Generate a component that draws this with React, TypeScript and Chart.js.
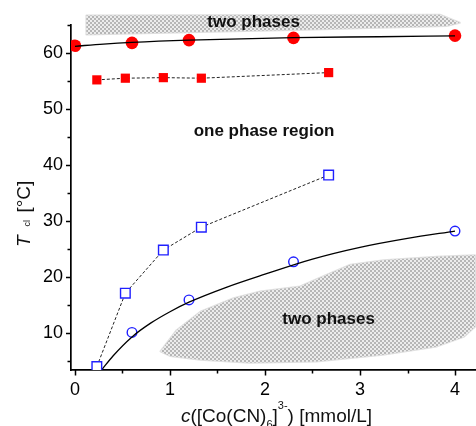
import React, { useEffect, useRef } from 'react';
import { Chart, registerables } from 'chart.js';

Chart.register(...registerables);

// ---- axis ticks ----
const xTicks = [0, 1, 2, 3, 4];
const xMinorTicks = [0.5, 1.5, 2.5, 3.5];
const yTicks = [10, 20, 30, 40, 50, 60];
const yMinorTicks = [5, 15, 25, 35, 45, 55, 65];

// ---- series ----
const redCircleX = [0, 0.6, 1.2, 2.3, 4.0];
const redCircleY = [61.3, 61.8, 62.3, 62.7, 63.1];
const redFitX = [0, 0.3, 0.6, 1.2, 2.3, 3.2, 4.0];
const redFitY = [61.2, 61.6, 61.9, 62.3, 62.75, 62.9, 63.05];
const redSquareX = [0.23, 0.53, 0.93, 1.33, 2.67];
const redSquareY = [55.2, 55.5, 55.6, 55.5, 56.5];
const blueSquareX = [0.23, 0.53, 0.93, 1.33, 2.67];
const blueSquareY = [4.0, 17.1, 24.8, 28.9, 38.2];
const blueCircleX = [0.6, 1.2, 2.3, 4.0];
const blueCircleY = [10.1, 15.9, 22.7, 28.2];
const blueFitX = [0.28, 0.4, 0.6, 0.8, 1.0, 1.2, 1.6, 2.0, 2.5, 3.0, 3.5, 4.0];
const blueFitY = [3.4, 5.9, 9.3, 11.8, 13.8, 15.5, 18.2, 20.5, 23.2, 25.3, 26.9, 28.2];

// ---- shaded two-phase regions (data coordinates) ----
const topRegionX = [0.12, 3.84, 4.05, 3.91, 2.5, 0.12];
const topRegionY = [66.7, 66.85, 65.4, 64.8, 64.2, 63.3];
const bottomRegionX = [0.9, 1.07, 1.32, 1.67, 1.95, 2.37, 2.61, 2.9, 3.25, 3.81, 4.21, 4.21, 4.09, 3.81, 3.24, 2.54, 1.84, 1.32, 1.0];
const bottomRegionY = [6.7, 10.5, 13.8, 16.2, 17.4, 18.3, 20.1, 22.2, 23.0, 23.6, 23.9, 11.1, 9.3, 7.6, 6.1, 4.9, 4.7, 5.2, 5.9];

// ---- annotations ----
const annotationTexts = ['two phases', 'one phase region', 'two phases'];
const annotationX = [1.88, 1.99, 2.67];
const annotationY = [64.65, 45.1, 11.6];

const RED = '#ff0000';
const BLUE = '#2020ff';
const FONT = 'Arial, "Liberation Sans", sans-serif';

const zip = (xs: number[], ys: number[]) => xs.map((x, i) => ({ x, y: ys[i] }));

function makePattern(ctx: CanvasRenderingContext2D) {
  const c = document.createElement('canvas');
  c.width = 4;
  c.height = 4;
  const p = c.getContext('2d')!;
  p.fillStyle = '#ececec';
  p.fillRect(0, 0, 4, 4);
  p.fillStyle = '#b6b6b6';
  p.fillRect(0, 0, 2, 2);
  p.fillRect(2, 2, 2, 2);
  return ctx.createPattern(c, 'repeat');
}

type Piece = { text?: string; font?: string; dy?: number; gap?: number };

function drawPieces(ctx: CanvasRenderingContext2D, pieces: Piece[], x0: number, y0: number) {
  let x = x0;
  for (const p of pieces) {
    if (p.gap) { x += p.gap; continue; }
    ctx.font = p.font!;
    ctx.fillText(p.text!, x, y0 + (p.dy || 0));
    x += ctx.measureText(p.text!).width;
  }
}
function piecesWidth(ctx: CanvasRenderingContext2D, pieces: Piece[]) {
  let w = 0;
  for (const p of pieces) {
    if (p.gap) { w += p.gap; continue; }
    ctx.font = p.font!;
    w += ctx.measureText(p.text!).width;
  }
  return w;
}

const decor = {
  id: 'decor',
  beforeDatasetsDraw(chart: any) {
    const { ctx, scales } = chart;
    const xs = scales.x, ys = scales.y;
    const pat = makePattern(ctx);
    const regions: [number[], number[]][] = [[topRegionX, topRegionY], [bottomRegionX, bottomRegionY]];
    for (const [rx, ry] of regions) {
      ctx.save();
      ctx.beginPath();
      rx.forEach((v, i) => {
        const px = xs.getPixelForValue(v);
        const py = ys.getPixelForValue(ry[i]);
        if (i === 0) ctx.moveTo(px, py); else ctx.lineTo(px, py);
      });
      ctx.closePath();
      ctx.lineJoin = 'round';
      ctx.strokeStyle = 'rgba(220,220,220,0.9)';
      ctx.lineWidth = 2;
      ctx.stroke();
      ctx.fillStyle = pat;
      ctx.fill();
      ctx.restore();
    }
  },
  afterDatasetsDraw(chart: any) {
    const { ctx, scales } = chart;
    ctx.save();
    ctx.fillStyle = '#111';
    ctx.font = `bold 17px ${FONT}`;
    ctx.textAlign = 'center';
    ctx.textBaseline = 'alphabetic';
    annotationTexts.forEach((t, i) => {
      ctx.fillText(t, scales.x.getPixelForValue(annotationX[i]), scales.y.getPixelForValue(annotationY[i]));
    });
    ctx.restore();
  },
  afterDraw(chart: any) {
    const { ctx, scales, chartArea } = chart;
    const xs = scales.x, ys = scales.y;
    ctx.save();
    ctx.strokeStyle = '#000';
    ctx.lineWidth = 1.5;
    ctx.beginPath();
    for (const v of yTicks) { const p = Math.round(ys.getPixelForValue(v)) + 0.5; ctx.moveTo(chartArea.left - 5, p); ctx.lineTo(chartArea.left, p); }
    for (const v of yMinorTicks) { const p = Math.round(ys.getPixelForValue(v)) + 0.5; ctx.moveTo(chartArea.left - 3.5, p); ctx.lineTo(chartArea.left, p); }
    for (const v of xTicks) { const p = Math.round(xs.getPixelForValue(v)) + 0.5; ctx.moveTo(p, chartArea.bottom); ctx.lineTo(p, chartArea.bottom + 5.5); }
    for (const v of xMinorTicks) { const p = Math.round(xs.getPixelForValue(v)) + 0.5; ctx.moveTo(p, chartArea.bottom); ctx.lineTo(p, chartArea.bottom + 3.5); }
    ctx.stroke();

    ctx.fillStyle = '#111';
    ctx.textAlign = 'left';
    ctx.textBaseline = 'alphabetic';
    // x title
    const xPieces: Piece[] = [
      { text: 'c', font: `italic 19px ${FONT}` },
      { text: '([Co(CN)', font: `19px ${FONT}` },
      { text: '6', font: `11px ${FONT}`, dy: 6 },
      { text: ']', font: `19px ${FONT}` },
      { text: '3-', font: `11px ${FONT}`, dy: -13 },
      { text: ') [mmol/L]', font: `19px ${FONT}` },
    ];
    const w = piecesWidth(ctx, xPieces);
    const cx = (chartArea.left + chartArea.right) / 2 + 3;
    drawPieces(ctx, xPieces, cx - w / 2, 422);

    // y title
    const yPieces: Piece[] = [
      { text: 'T', font: `italic 19px ${FONT}` },
      { gap: 9 },
      { text: 'cl', font: `9px ${FONT}`, dy: 0 },
      { gap: 2 },
      { text: ' [°C]', font: `19px ${FONT}` },
    ];
    ctx.translate(30, 247);
    ctx.rotate(-Math.PI / 2);
    drawPieces(ctx, yPieces, 0, 0);
    ctx.restore();
  },
};

export default function App() {
  const ref = useRef<HTMLCanvasElement>(null);
  useEffect(() => {
    document.body.style.margin = '0';
    const tickFont = { family: FONT, size: 18 };
    const chart = new Chart(ref.current!, {
      type: 'line',
      data: {
        datasets: [
          {
            data: zip(redFitX, redFitY),
            borderColor: '#000', borderWidth: 1.3, pointRadius: 0,
            cubicInterpolationMode: 'monotone', fill: false,
          },
          {
            data: zip(redCircleX, redCircleY),
            showLine: false, pointStyle: 'circle', pointRadius: 6.3,
            pointBackgroundColor: RED, pointBorderColor: RED, pointBorderWidth: 0,
          },
          {
            data: zip(redSquareX, redSquareY),
            borderColor: '#222', borderWidth: 1, borderDash: [3, 2],
            pointStyle: 'rect', pointRadius: 6.5,
            pointBackgroundColor: RED, pointBorderColor: RED, pointBorderWidth: 0,
          },
          {
            data: zip(blueSquareX, blueSquareY),
            borderColor: '#222', borderWidth: 1, borderDash: [3, 2],
            pointStyle: 'rect', pointRadius: 6.8,
            pointBackgroundColor: '#fff', pointBorderColor: BLUE, pointBorderWidth: 1.4,
          },
          {
            data: zip(blueFitX, blueFitY),
            borderColor: '#000', borderWidth: 1.3, pointRadius: 0,
            cubicInterpolationMode: 'monotone', fill: false,
          },
          {
            data: zip(blueCircleX, blueCircleY),
            showLine: false, pointStyle: 'circle', pointRadius: 4.8,
            pointBackgroundColor: '#fff', pointBorderColor: BLUE, pointBorderWidth: 1.4,
          },
        ] as any,
      },
      options: {
        animation: false,
        responsive: false,
        devicePixelRatio: 1,
        layout: { autoPadding: false, padding: { top: 25, right: 0, left: 0, bottom: 0 } },
        plugins: { legend: { display: false }, tooltip: { enabled: false } },
        scales: {
          x: {
            type: 'linear', min: -0.042, max: 4.221,
            grid: { display: false, drawTicks: false, tickLength: 0 },
            border: { display: true, color: '#000', width: 1.7 },
            ticks: { font: tickFont, color: '#000', padding: 9, maxRotation: 0, autoSkip: false },
            afterBuildTicks: (s: any) => { s.ticks = xTicks.map((v) => ({ value: v })); },
            afterFit: (s: any) => { s.height = 56; s.paddingLeft = 0; s.paddingRight = 0; },
          },
          y: {
            type: 'linear', min: 3.39, max: 65,
            grid: { display: false, drawTicks: false, tickLength: 0 },
            border: { display: true, color: '#000', width: 1.7 },
            ticks: { font: tickFont, color: '#000', padding: 8, autoSkip: false },
            afterBuildTicks: (s: any) => { s.ticks = yTicks.map((v) => ({ value: v })); },
            afterFit: (s: any) => { s.width = 71; s.paddingTop = 0; s.paddingBottom = 0; },
          },
        },
      } as any,
      plugins: [decor],
    });
    return () => chart.destroy();
  }, []);
  return (
    <div style={{ position: 'fixed', left: 0, top: 0, width: 476, height: 426 }}>
      <canvas ref={ref} width={476} height={426} />
    </div>
  );
}
